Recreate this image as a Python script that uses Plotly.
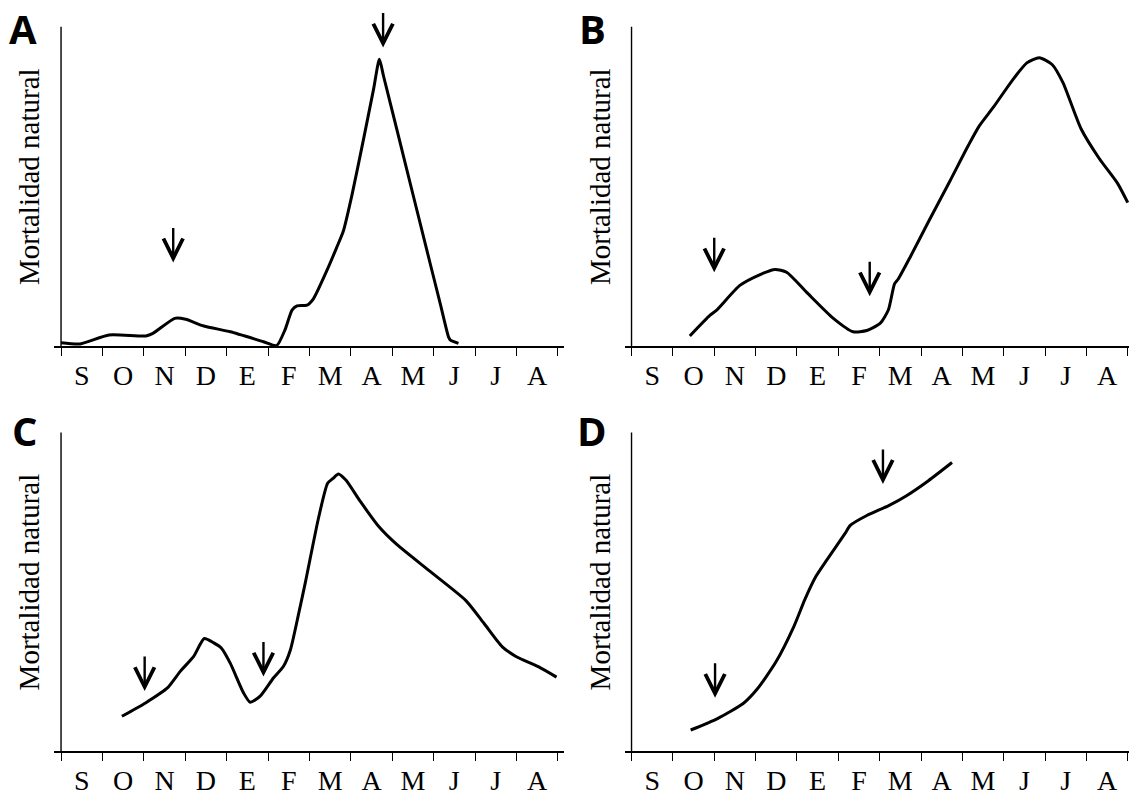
import plotly.graph_objects as go

# Month initials on the x axis (September to August)
MONTHS = ["S", "O", "N", "D", "E", "F", "M", "A", "M", "J", "J", "A"]

# Panel A
a_month = [0.0, 0.46, 1.16, 2.05, 2.22, 2.75, 3.01, 3.45, 4.09, 4.89, 5.21, 5.41,
           5.58, 5.70, 5.94, 6.10, 6.42, 6.66, 6.82, 7.03, 7.31, 7.55, 7.69, 7.79,
           8.11, 8.52, 8.92, 9.16, 9.36, 9.40, 9.60]
a_mort = [1.2, 0.8, 3.6, 3.3, 4.1, 8.8, 8.5, 6.4, 4.6, 1.5, 0.3, 5.2,
          11.4, 12.7, 12.9, 15.0, 23.7, 31.0, 36.1, 47.5, 65.0, 80.5, 89.8, 84.6,
          68.0, 46.6, 25.8, 13.4, 3.0, 2.1, 1.0]
a_arrow_month = [2.71, 7.78]
a_arrow_mort = [26.3, 93.5]

# Panel B
b_month = [1.41, 1.90, 2.06, 2.62, 3.11, 3.47, 3.75, 4.23, 4.88, 5.36, 5.69, 6.01,
           6.21, 6.36, 6.45, 6.74, 7.18, 7.71, 8.15, 8.41, 8.76, 9.2, 9.56,
           9.86, 10.17, 10.43, 10.87, 11.31, 11.75, 12.0]
b_mort = [3.3, 9.8, 11.4, 19.1, 22.5, 24.1, 23.2, 17.0, 8.8, 4.6, 5.0, 7.2,
          11.4, 19.6, 21.1, 28.0, 39.0, 52.0, 63.0, 69.0, 75.0, 83.1, 88.7,
          90.3, 88.2, 82.6, 68.1, 58.8, 51.1, 45.0]
b_arrow_month = [2.0, 5.76]
b_arrow_mort = [23.2, 15.7]

# Panel C
c_month = [1.47, 2.04, 2.57, 2.88, 3.2, 3.46, 3.68, 3.88, 4.09, 4.41, 4.57, 4.81,
           5.13, 5.37, 5.54, 5.74, 5.91, 6.22, 6.44, 6.57, 6.70, 6.88, 7.23, 7.67,
           8.11, 8.90, 9.78, 10.22, 10.66, 11.0, 11.53, 11.97]
c_mort = [11.0, 15.2, 19.9, 25.1, 29.7, 35.4, 34.1, 32.3, 27.6, 18.3, 15.4, 17.3,
          23.0, 26.6, 31.8, 43.2, 53.5, 73.2, 84.1, 85.6, 87.0, 85.1, 78.4, 70.6,
          64.9, 56.6, 47.3, 40.1, 32.8, 29.7, 26.6, 23.3]
c_arrow_month = [2.02, 4.89]
c_arrow_mort = [18.9, 23.5]

# Panel D
d_month = [1.43, 2.08, 2.70, 3.05, 3.49, 3.93, 4.19, 4.46, 4.72, 5.16, 5.29, 5.69,
           6.22, 6.65, 7.18, 7.75]
d_mort = [6.7, 10.3, 15.0, 19.7, 28.0, 39.3, 47.6, 54.9, 60.0, 68.3, 70.9, 74.0,
          77.1, 80.2, 84.9, 90.6]
d_arrow_month = [2.02, 6.08]
d_arrow_mort = [16.8, 83.9]

PANEL_LETTERS = ["A", "B", "C", "D"]
Y_TITLE = "Mortalidad natural"

W, H = 1129, 796
SERIF = "Liberation Serif, Times New Roman, serif"

panels = [
    (a_month, a_mort, a_arrow_month, a_arrow_mort),
    (b_month, b_mort, b_arrow_month, b_arrow_mort),
    (c_month, c_mort, c_arrow_month, c_arrow_mort),
    (d_month, d_mort, d_arrow_month, d_arrow_mort),
]

# Pixel geometry of the 2x2 grid
col_px = [(54, 564), (624.5, 1129)]          # x-axis line extent
col_range = [[-0.17, 12.15], [-0.17, 12.03]]
row_px = [(7, 350), (417, 759)]               # top of domain, x-axis baseline
Y_TOP = 106.2                                  # value at top of the domain
AXIS_TOP = 100                                 # vertical axis line stops here
letter_px = [(22.5, 29), (592, 29), (24.5, 435), (592, 435)]

fig = go.Figure()

for i, (mx, my, ax_m, ax_v) in enumerate(panels):
    r, c = divmod(i, 2)
    n = "" if i == 0 else str(i + 1)
    xa, ya = "x" + n, "y" + n

    fig.add_trace(go.Scatter(
        x=mx, y=my, mode="lines", xaxis=xa, yaxis=ya,
        line=dict(color="black", width=3, shape="spline", smoothing=0.6),
        cliponaxis=False, showlegend=False, hoverinfo="skip",
    ))

    x0, x1 = col_px[c]
    ytop, ybase = row_px[r]
    fig.update_layout({
        "xaxis" + n: dict(
            domain=[x0 / W, x1 / W], range=col_range[c], anchor=ya,
            showline=True, linecolor="black", linewidth=1.5,
            showgrid=False, zeroline=False,
            tickmode="array", tickvals=[k + 0.5 for k in range(12)],
            ticktext=MONTHS, ticks="",
            tickfont=dict(family=SERIF, size=28, color="black"),
            ticklabelstandoff=3,
            minor=dict(tickmode="array", tickvals=list(range(13)),
                       ticks="outside", ticklen=8, tickwidth=1.3,
                       tickcolor="black", showgrid=False),
        ),
        "yaxis" + n: dict(
            domain=[1 - ybase / H, 1 - ytop / H], range=[0, Y_TOP], anchor=xa,
            showline=False, showgrid=False, zeroline=False,
            showticklabels=False, ticks="",
            title=dict(text=Y_TITLE, standoff=4,
                       font=dict(family=SERIF, size=29, color="black")),
        ),
    })

    # vertical axis line at the start of September
    fig.add_shape(type="line", xref=xa, yref=ya + " domain",
                  x0=0, x1=0, y0=0, y1=AXIS_TOP / Y_TOP,
                  line=dict(color="black", width=1.4))

    # arrows marking events
    for am, av in zip(ax_m, ax_v):
        fig.add_annotation(x=am, y=av, xref=xa, yref=ya, text="",
                           showarrow=True, ax=0, ay=-36, axref="pixel",
                           arrowhead=5, arrowsize=1.6, arrowwidth=2.4,
                           arrowcolor="black")

    lx, ly = letter_px[i]
    fig.add_annotation(x=lx / W, y=1 - ly / H, xref="paper", yref="paper",
                       text="<b>%s</b>" % PANEL_LETTERS[i], showarrow=False,
                       xanchor="center", yanchor="middle",
                       font=dict(family="Open Sans", size=40, color="black"))

fig.update_layout(
    width=W, height=H, margin=dict(l=0, r=0, t=0, b=0),
    paper_bgcolor="white", plot_bgcolor="white",
)

fig.write_html("out.html")
